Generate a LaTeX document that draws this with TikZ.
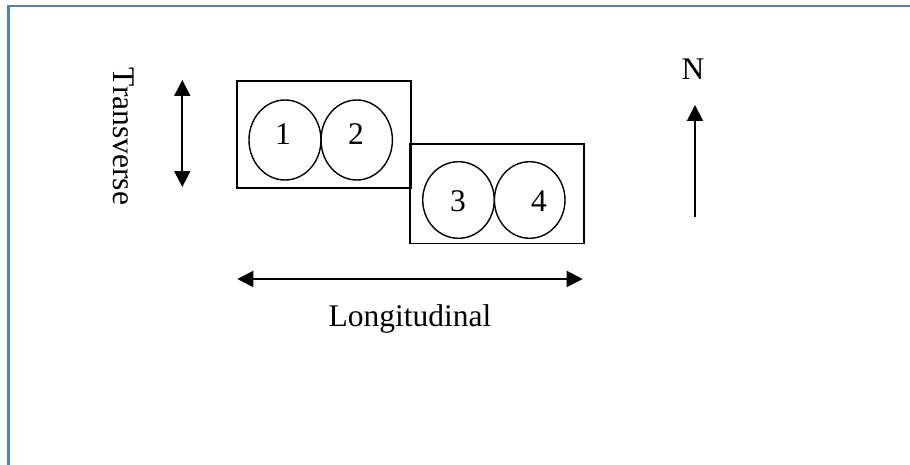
\documentclass[tikz,border=0pt]{standalone}
\usepackage{fontspec}
\setmainfont{Liberation Serif}
\usetikzlibrary{arrows.meta,shapes.geometric}
\definecolor{framblue}{HTML}{4F81BD}
\begin{document}
\begin{tikzpicture}[x=0.5pt,y=-0.5pt,
  txt/.style={inner sep=0pt,font=\fontsize{15.75}{18}\selectfont},
  box/.style={draw,line width=0.7pt,inner sep=0pt,minimum width=87pt},
  wheel/.style={draw,ellipse,line width=0.7pt,inner sep=0pt},
  dir/.style={line width=1pt,-{Triangle[length=8pt,width=8pt]}},
  ddir/.style={line width=1pt,{Triangle[length=8pt,width=8pt]}-{Triangle[length=8pt,width=8pt]}}]
\useasboundingbox (0,0) rectangle (910,465);
% frame
\draw[framblue,line width=1.2pt] (8.3,480) -- (8.3,6) -- (930,6);
% boxes
\node[box,minimum height=53.5pt] (b1) at (324,134.5) {};
\node[box,minimum height=49.5pt] (b2) at (497,193.7) {};
% wheels
\node[wheel,minimum width=36pt,minimum height=40pt] (w1) at (285,140) {};
\node[wheel,minimum width=35.7pt,minimum height=40pt] (w2) at (356.7,140) {};
\node[wheel,minimum width=35.8pt,minimum height=38.3pt] (w3) at (458.5,200) {};
\node[wheel,minimum width=35.3pt,minimum height=38.3pt] (w4) at (529.7,200) {};
% numbers
\node[txt,anchor=base] (n1) at (283,144) {1};
\node[txt,anchor=base] (n2) at (356,144) {2};
\node[txt,anchor=base] (n3) at (458,211.7) {3};
\node[txt,anchor=base] (n4) at (539,211.7) {4};
% transverse
\coordinate (t1) at (182.3,80);
\coordinate (t2) at (182.3,187);
\draw[ddir] (t1) -- (t2);
\node[txt,rotate=-90,anchor=base] (tl) at (113,136.5) {Transverse};
% longitudinal
\coordinate (l1) at (237.3,279);
\coordinate (l2) at (582.7,279);
\draw[ddir] (l1) -- (l2);
\node[txt,anchor=base] (ll) at (410,326) {Longitudinal};
% north
\coordinate (s) at (695,216.7);
\coordinate (e) at (695,105);
\draw[dir] (s) -- (e);
\node[txt,anchor=base] (nl) at (693,79.3) {N};
\end{tikzpicture}
\end{document}
